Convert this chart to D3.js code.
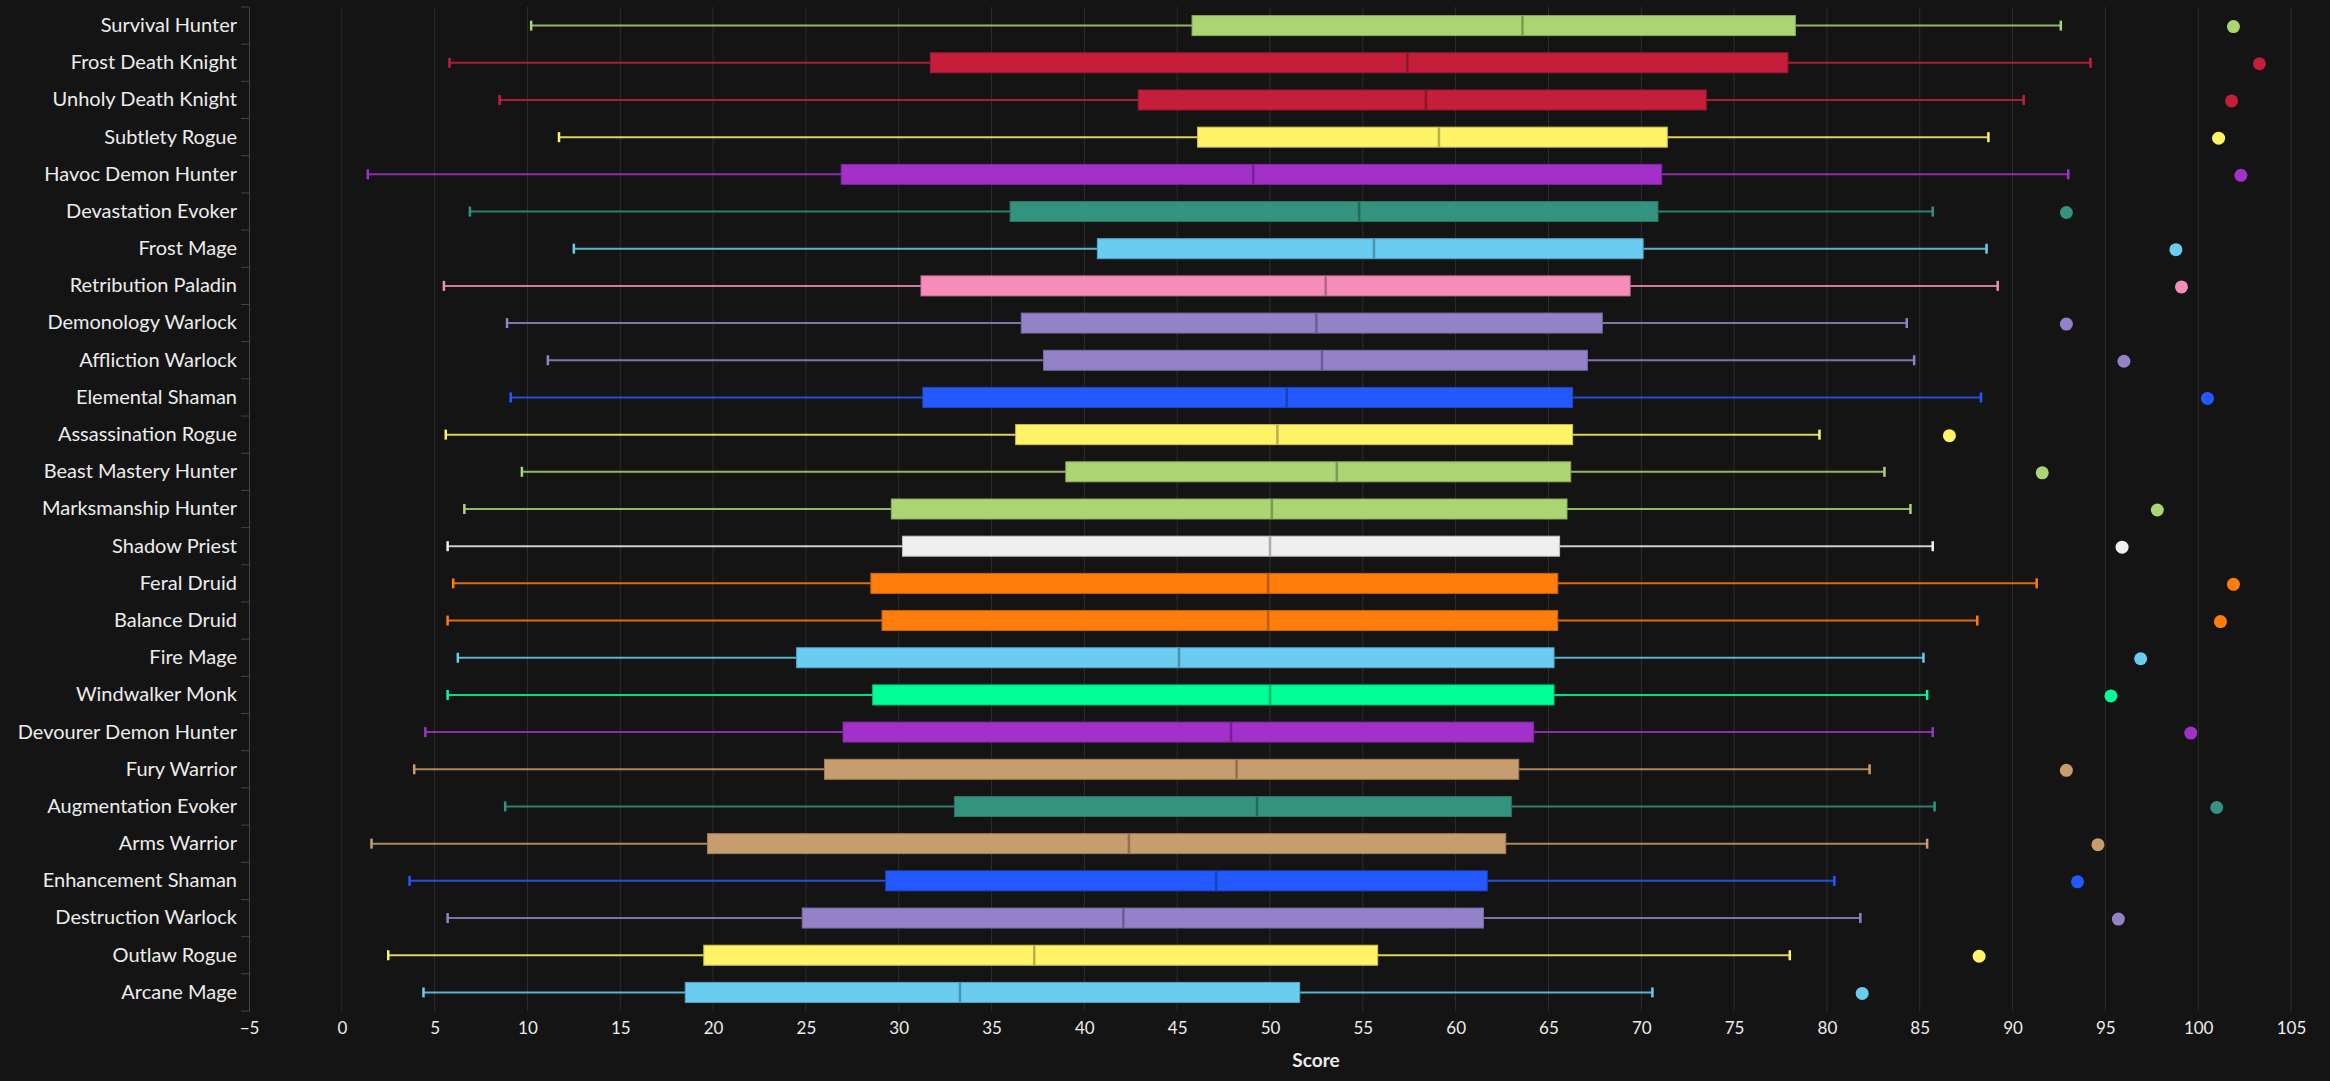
<!DOCTYPE html>
<html>
<head>
<meta charset="utf-8">
<script src="https://cdn.jsdelivr.net/npm/d3@7"></script>
<style>
  body { margin: 0; background: #141414; }
  svg { display: block; }
  text { font-family: Lato, "Open Sans", sans-serif; fill: #ececec; }
</style>
</head>
<body>
<div id="chart"></div>
<script>
// Spec names, top to bottom
const specs = [
    "Survival Hunter", "Frost Death Knight", "Unholy Death Knight", "Subtlety Rogue",
    "Havoc Demon Hunter", "Devastation Evoker", "Frost Mage", "Retribution Paladin",
    "Demonology Warlock", "Affliction Warlock", "Elemental Shaman", "Assassination Rogue",
    "Beast Mastery Hunter", "Marksmanship Hunter", "Shadow Priest", "Feral Druid",
    "Balance Druid", "Fire Mage", "Windwalker Monk", "Devourer Demon Hunter",
    "Fury Warrior", "Augmentation Evoker", "Arms Warrior", "Enhancement Shaman",
    "Destruction Warlock", "Outlaw Rogue", "Arcane Mage"
];
const specClass = [
    "hunter", "dk", "dk", "rogue", "dh", "evoker", "mage", "paladin",
    "warlock", "warlock", "shaman", "rogue", "hunter", "hunter", "priest", "druid",
    "druid", "mage", "monk", "dh", "warrior", "evoker", "warrior", "shaman",
    "warlock", "rogue", "mage"
];

// box plot values
const lowValues    = [10.2, 5.8, 8.5, 11.7, 1.4, 6.9, 12.5, 5.5, 8.9, 11.1, 9.1, 5.6, 9.7, 6.6, 5.7, 6.0, 5.7, 6.25, 5.7, 4.5, 3.9, 8.8, 1.6, 3.65, 5.7, 2.5, 4.4];
const q1Values     = [45.8, 31.7, 42.9, 46.1, 26.9, 36.0, 40.7, 31.2, 36.6, 37.8, 31.3, 36.3, 39.0, 29.6, 30.2, 28.5, 29.1, 24.5, 28.6, 27.0, 26.0, 33.0, 19.7, 29.3, 24.8, 19.5, 18.5];
const medianValues = [63.6, 57.4, 58.4, 59.1, 49.1, 54.8, 55.6, 53.0, 52.5, 52.8, 50.9, 50.4, 53.6, 50.1, 50.0, 49.9, 49.9, 45.1, 50.0, 47.9, 48.2, 49.3, 42.4, 47.1, 42.1, 37.3, 33.3];
const q3Values     = [78.3, 77.9, 73.5, 71.4, 71.1, 70.9, 70.1, 69.4, 67.9, 67.1, 66.3, 66.3, 66.2, 66.0, 65.6, 65.5, 65.5, 65.3, 65.3, 64.2, 63.4, 63.0, 62.7, 61.7, 61.5, 55.8, 51.6];
const highValues   = [92.6, 94.2, 90.6, 88.7, 93.0, 85.7, 88.6, 89.2, 84.3, 84.7, 88.3, 79.6, 83.1, 84.5, 85.7, 91.3, 88.1, 85.2, 85.4, 85.7, 82.3, 85.8, 85.4, 80.4, 81.8, 78.0, 70.6];
const maxValues    = [101.9, 103.3, 101.8, 101.1, 102.3, 92.9, 98.8, 99.1, 92.9, 96.0, 100.5, 86.6, 91.6, 97.8, 95.9, 101.9, 101.2, 96.9, 95.3, 99.6, 92.9, 101.0, 94.6, 93.5, 95.7, 88.2, 81.9];

const xTicks = [-5, 0, 5, 10, 15, 20, 25, 30, 35, 40, 45, 50, 55, 60, 65, 70, 75, 80, 85, 90, 95, 100, 105];

const classColor = {
    hunter: "#abd473", dk: "#c41e3a", rogue: "#fff468", dh: "#a330c9",
    evoker: "#33937f", mage: "#69ccf0", paladin: "#f58cba", warlock: "#9482c9",
    shaman: "#2459ff", priest: "#efefef", druid: "#ff7d0a", monk: "#00ff96",
    warrior: "#c79c6e"
};

const rows = specs.map((s, i) => ({
    spec: s,
    color: classColor[specClass[i]],
    low: lowValues[i], q1: q1Values[i], med: medianValues[i],
    q3: q3Values[i], high: highValues[i], max: maxValues[i]
}));

const W = 2330, H = 1081;
const margin = { top: 7, right: 39, bottom: 70, left: 249 };

const svg = d3.select("#chart").append("svg")
    .attr("width", W)
    .attr("height", H);

svg.append("rect").attr("width", W).attr("height", H).attr("fill", "#141414");

const x = d3.scaleLinear().domain([-5, 105]).range([margin.left, W - margin.right]);
const y = d3.scaleBand().domain(specs).range([margin.top, H - margin.bottom]).padding(0);
const bh = 20;

// grid
svg.append("g")
    .selectAll("line")
    .data(xTicks.slice(1))
    .join("line")
    .attr("x1", d => x(d)).attr("x2", d => x(d))
    .attr("y1", margin.top).attr("y2", H - margin.bottom)
    .attr("stroke", "#2e2e2e")
    .attr("stroke-width", 1);

// x axis (labels only)
const xAxis = svg.append("g")
    .attr("transform", `translate(0,${H - margin.bottom})`)
    .call(d3.axisBottom(x).tickValues(xTicks).tickSize(0).tickPadding(11).tickFormat(d => d < 0 ? "\u2212" + Math.abs(d) : d));
xAxis.select(".domain").remove();
xAxis.selectAll("text").style("font-size", "17px").attr("fill", "#ececec");

svg.append("text")
    .attr("x", 1316)
    .attr("y", 1067)
    .attr("text-anchor", "middle")
    .style("font-size", "19px")
    .style("font-weight", "bold")
    .text("Score");

// y axis
const yAxis = svg.append("g")
    .attr("transform", `translate(${margin.left},0)`)
    .call(d3.axisLeft(y).tickSize(0).tickPadding(12));
yAxis.select(".domain").attr("stroke", "#444");
yAxis.selectAll("text").style("font-size", "20px").attr("fill", "#ececec");

// tick marks between bands
const bounds = specs.map(s => y(s)).concat([y(specs[specs.length - 1]) + y.bandwidth()]);
yAxis.append("g")
    .selectAll("line")
    .data(bounds)
    .join("line")
    .attr("x1", -8).attr("x2", 0)
    .attr("y1", d => d).attr("y2", d => d)
    .attr("stroke", "#444");

// boxes
const g = svg.append("g");
const row = g.selectAll("g.row")
    .data(rows)
    .join("g")
    .attr("class", "row")
    .attr("transform", d => `translate(0,${y(d.spec) + y.bandwidth() / 2})`);

// whiskers
row.append("line")
    .attr("x1", d => x(d.low)).attr("x2", d => x(d.q1))
    .attr("stroke", d => d.color).attr("stroke-width", 2).attr("stroke-opacity", 0.85);
row.append("line")
    .attr("x1", d => x(d.q3)).attr("x2", d => x(d.high))
    .attr("stroke", d => d.color).attr("stroke-width", 2).attr("stroke-opacity", 0.85);
row.append("line")
    .attr("x1", d => x(d.low)).attr("x2", d => x(d.low))
    .attr("y1", -5).attr("y2", 5)
    .attr("stroke", d => d.color).attr("stroke-width", 2.5);
row.append("line")
    .attr("x1", d => x(d.high)).attr("x2", d => x(d.high))
    .attr("y1", -5).attr("y2", 5)
    .attr("stroke", d => d.color).attr("stroke-width", 2.5);

row.append("rect")
    .attr("x", d => x(d.q1))
    .attr("y", -bh / 2)
    .attr("width", d => x(d.q3) - x(d.q1))
    .attr("height", bh)
    .attr("fill", d => d.color)
    .attr("stroke", d => d3.color(d.color).darker(0.6))
    .attr("stroke-width", 1);

row.append("line")
    .attr("x1", d => x(d.med)).attr("x2", d => x(d.med))
    .attr("y1", -bh / 2).attr("y2", bh / 2)
    .attr("stroke", d => d3.color(d.color).darker(0.9))
    .attr("stroke-width", 2.5);

row.append("circle")
    .attr("cx", d => x(d.max))
    .attr("cy", 1)
    .attr("r", 6.5)
    .attr("fill", d => d.color);
</script>
</body>
</html>
